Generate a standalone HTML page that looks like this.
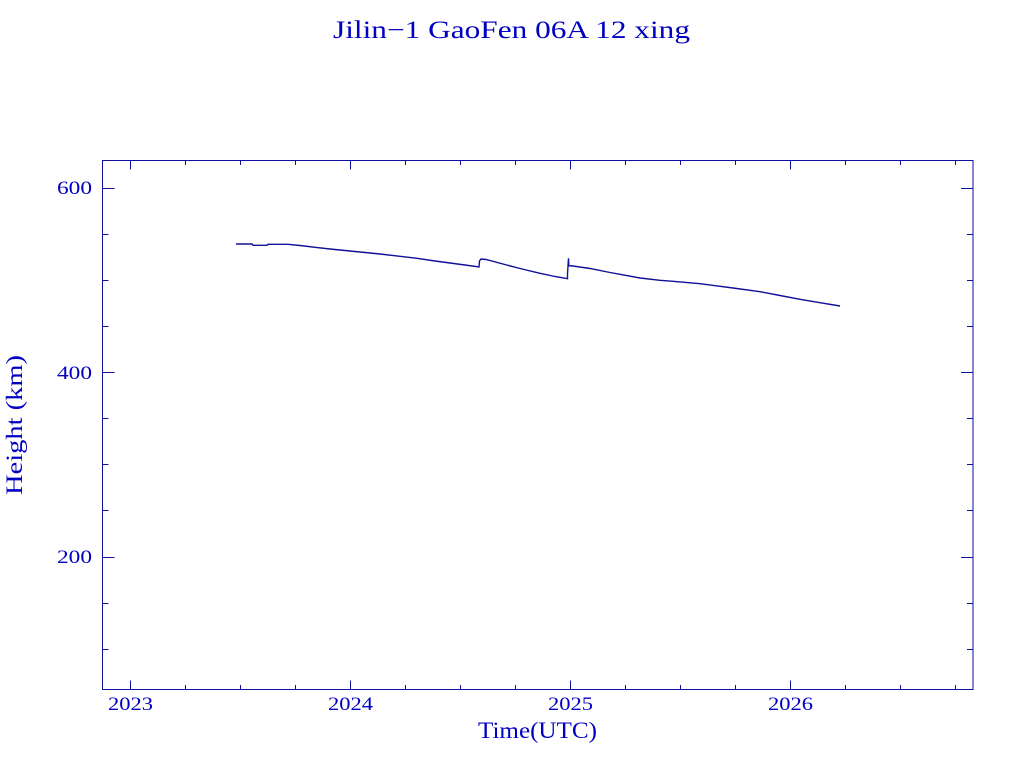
<!DOCTYPE html>
<html>
<head>
<meta charset="utf-8">
<style>
  html, body { margin: 0; padding: 0; background: #ffffff; }
  svg { display: block; }
  text { font-family: "Liberation Serif", "DejaVu Serif", serif; fill: #0000c0; }
</style>
</head>
<body>
<svg width="1024" height="768" viewBox="0 0 1024 768" xmlns="http://www.w3.org/2000/svg">
  <rect x="0" y="0" width="1024" height="768" fill="#ffffff"/>

  <!-- Title -->
  <text x="333" y="38" font-size="25" textLength="357" lengthAdjust="spacingAndGlyphs">Jilin−1 GaoFen 06A 12 xing</text>

  <!-- Frame -->
  <rect x="102.5" y="160.5" width="870.5" height="529" fill="none" stroke="#1010a0" stroke-width="1"/>

  <g stroke="#1010a0" stroke-width="1" fill="none">
    <!-- X major ticks (bottom & top) -->
    <path d="M130.5 689.5V680.5 M350.5 689.5V680.5 M570.5 689.5V680.5 M790.5 689.5V680.5
             M130.5 160.5V169.5 M350.5 160.5V169.5 M570.5 160.5V169.5 M790.5 160.5V169.5"/>
    <!-- X minor ticks -->
    <path d="M185.5 689.5V685 M240.5 689.5V685 M295.5 689.5V685
             M405.5 689.5V685 M460.5 689.5V685 M515.5 689.5V685
             M625.5 689.5V685 M680.5 689.5V685 M735.5 689.5V685
             M845.5 689.5V685 M900.5 689.5V685 M955.5 689.5V685
             M185.5 160.5V165 M240.5 160.5V165 M295.5 160.5V165
             M405.5 160.5V165 M460.5 160.5V165 M515.5 160.5V165
             M625.5 160.5V165 M680.5 160.5V165 M735.5 160.5V165
             M845.5 160.5V165 M900.5 160.5V165 M955.5 160.5V165"/>
    <!-- Y major ticks -->
    <path d="M102.5 188.5H114.5 M102.5 372.5H114.5 M102.5 557.5H114.5
             M973 188.5H961 M973 372.5H961 M973 557.5H961"/>
    <!-- Y minor ticks -->
    <path d="M102.5 234.5H108.5 M102.5 280.5H108.5 M102.5 326.5H108.5 M102.5 418.5H108.5
             M102.5 464.5H108.5 M102.5 510.5H108.5 M102.5 603.5H108.5 M102.5 649.5H108.5
             M973 234.5H967 M973 280.5H967 M973 326.5H967 M973 418.5H967
             M973 464.5H967 M973 510.5H967 M973 603.5H967 M973 649.5H967"/>
  </g>

  <!-- Y tick labels -->
  <text x="92" y="194" font-size="19" text-anchor="end" textLength="35" lengthAdjust="spacingAndGlyphs">600</text>
  <text x="92" y="379" font-size="19" text-anchor="end" textLength="35" lengthAdjust="spacingAndGlyphs">400</text>
  <text x="92" y="563" font-size="19" text-anchor="end" textLength="35" lengthAdjust="spacingAndGlyphs">200</text>

  <!-- X tick labels -->
  <text x="108" y="710" font-size="19" textLength="45" lengthAdjust="spacingAndGlyphs">2023</text>
  <text x="328" y="710" font-size="19" textLength="45" lengthAdjust="spacingAndGlyphs">2024</text>
  <text x="548" y="710" font-size="19" textLength="45" lengthAdjust="spacingAndGlyphs">2025</text>
  <text x="768" y="710" font-size="19" textLength="45" lengthAdjust="spacingAndGlyphs">2026</text>

  <!-- Axis labels -->
  <text x="478" y="738" font-size="23" textLength="119" lengthAdjust="spacingAndGlyphs">Time(UTC)</text>
  <text transform="translate(22,495) rotate(-90)" x="0" y="0" font-size="23" textLength="140" lengthAdjust="spacingAndGlyphs">Height (km)</text>

  <!-- Data series -->
  <polyline fill="none" stroke="#10109a" stroke-width="1.4" stroke-linejoin="miter"
    points="236,244 252,244 253,245.3 267,245.3 268,244.3 288,244.3
            300,245.5 315,247.3 330,249 350,251 380,254 400,256.3 417,258.3
            435,261 450,263 465,265 479,267 479.5,261 481,259 486,259.5
            506.7,265 520,268.5 540,273.3 555,276.5 567.5,278.7
            567.5,274 568.5,258.3 568.8,265.7 573,266 590,268.5 610,272.5
            620,274.3 640,278 660,280.3 673,281.3 700,283.7 720,286.3 733,288
            760,291.7 780,295.5 800,299.3 820,302.7 840,306"/>
</svg>
</body>
</html>
